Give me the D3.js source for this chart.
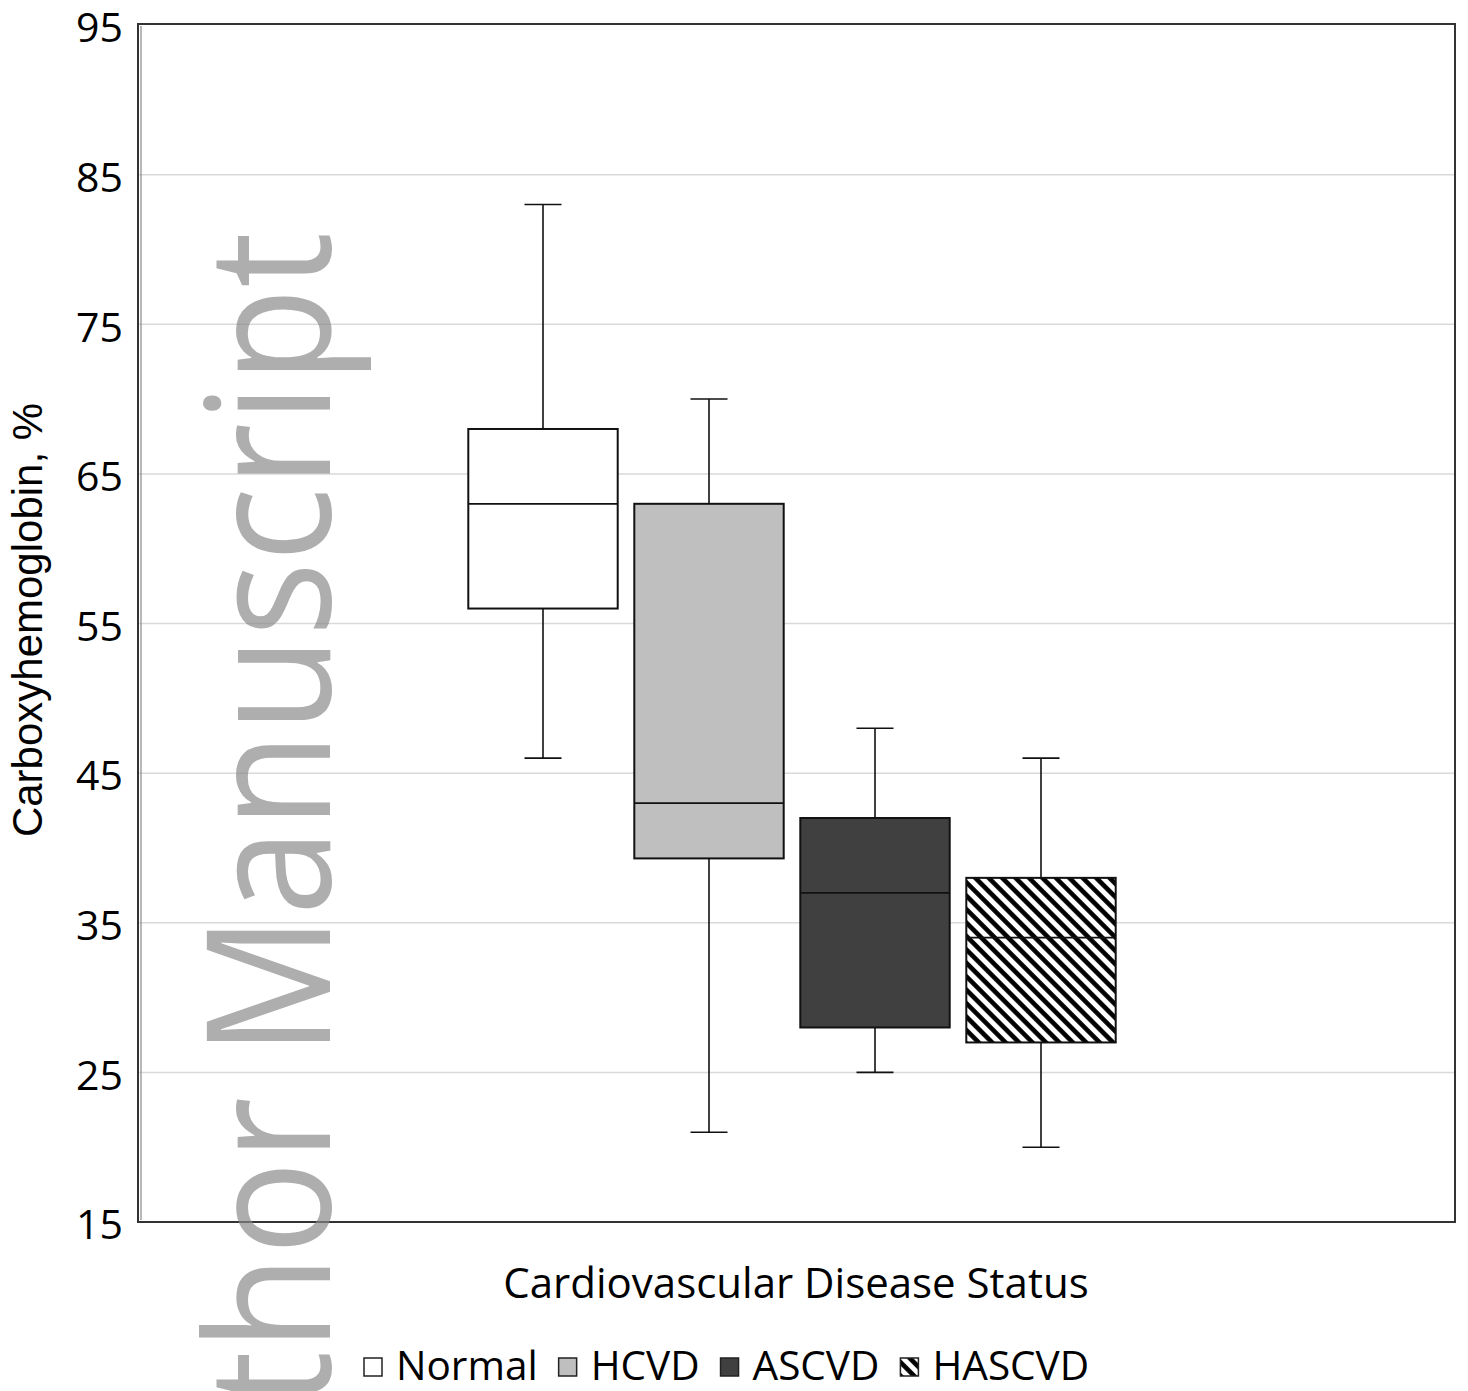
<!DOCTYPE html>
<html lang="en">
  <head>
    <meta charset="UTF-8" />
    <title>Carboxyhemoglobin by CVD status</title>
    <style>
      body { margin: 0; background: #fff; }
      text { font-family: "Open Sans", "Noto Sans", sans-serif; }
    </style>
  </head>
  <body>
    <svg id="chart" width="1468" height="1391"></svg>

    <script src="https://d3js.org/d3.v7.min.js"></script>
    <script>
      // data
      const groups = ["Normal", "HCVD", "ASCVD", "HASCVD"];
      const whiskerMin = [46, 21, 25, 20];
      const q1 = [56, 39.3, 28, 27];
      const median = [63, 43, 37, 34];
      const q3 = [68, 63, 42, 38];
      const whiskerMax = [83, 70, 48, 46];
      const yTicks = [15, 25, 35, 45, 55, 65, 75, 85, 95];

      const fills = ["#ffffff", "#bfbfbf", "#404040", "url(#hatch)"];

      const svg = d3.select("#chart");
      const plotLeft = 138, plotRight = 1455, plotTop = 25, plotBottom = 1222;

      const y = d3.scaleLinear().domain([15, 95]).range([plotBottom, plotTop]);
      const x = d3.scaleBand()
        .domain(groups)
        .range([460, 1124])
        .paddingInner(0.1)
        .paddingOuter(0.05);

      // hatch pattern
      const defs = svg.append("defs");
      const pat = defs.append("pattern")
        .attr("id", "hatch")
        .attr("patternUnits", "userSpaceOnUse")
        .attr("width", 9.5)
        .attr("height", 9.5)
        .attr("patternTransform", "rotate(-45)");
      pat.append("rect").attr("width", 9.5).attr("height", 9.5).attr("fill", "#fff");
      pat.append("line")
        .attr("x1", 2.4).attr("x2", 2.4)
        .attr("y1", 0).attr("y2", 9.5)
        .attr("stroke", "#000")
        .attr("stroke-width", 4.6);

      // gridlines
      svg.append("g")
        .selectAll("line")
        .data(yTicks.filter(d => d > 15 && d < 95))
        .enter()
        .append("line")
        .attr("x1", plotLeft)
        .attr("x2", plotRight)
        .attr("y1", d => y(d))
        .attr("y2", d => y(d))
        .attr("stroke", "#d9d9d9")
        .attr("stroke-width", 1.5);

      // y axis labels (no ticks, no domain)
      const yAxis = svg.append("g")
        .attr("transform", `translate(${plotLeft - 15},0)`)
        .call(d3.axisLeft(y).tickValues(yTicks).tickSize(0).tickPadding(0));
      yAxis.select(".domain").remove();
      yAxis.selectAll("text")
        .attr("dy", "0.41em")
        .style("font-size", "41px")
        .style("font-family", "'Open Sans', sans-serif")
        .attr("fill", "#000");

      // frame
      svg.append("rect")
        .attr("x", plotLeft)
        .attr("y", plotTop - 1)
        .attr("width", plotRight - plotLeft)
        .attr("height", plotBottom - plotTop + 1)
        .attr("fill", "none")
        .attr("stroke", "#333")
        .attr("stroke-width", 2);
      svg.append("line")
        .attr("x1", plotLeft + 3).attr("x2", plotLeft + 3)
        .attr("y1", plotTop + 1).attr("y2", plotBottom - 2)
        .attr("stroke", "#888")
        .attr("stroke-width", 1.2);

      // box plots
      const boxes = svg.append("g")
        .selectAll("g")
        .data(groups)
        .enter()
        .append("g");

      const cx = g => x(g) + x.bandwidth() / 2;
      const capW = 37;

      boxes.append("line")
        .attr("x1", cx).attr("x2", cx)
        .attr("y1", (d, i) => y(whiskerMax[i]))
        .attr("y2", (d, i) => y(whiskerMin[i]))
        .attr("stroke", "#111")
        .attr("stroke-width", 1.6);

      [whiskerMax, whiskerMin].forEach(arr => {
        boxes.append("line")
          .attr("x1", d => cx(d) - capW / 2)
          .attr("x2", d => cx(d) + capW / 2)
          .attr("y1", (d, i) => y(arr[i]))
          .attr("y2", (d, i) => y(arr[i]))
          .attr("stroke", "#111")
          .attr("stroke-width", 1.6);
      });

      boxes.append("rect")
        .attr("x", d => x(d))
        .attr("width", x.bandwidth())
        .attr("y", (d, i) => y(q3[i]))
        .attr("height", (d, i) => y(q1[i]) - y(q3[i]))
        .attr("fill", (d, i) => fills[i])
        .attr("stroke", "#111")
        .attr("stroke-width", 2);

      boxes.append("line")
        .attr("x1", d => x(d))
        .attr("x2", d => x(d) + x.bandwidth())
        .attr("y1", (d, i) => y(median[i]))
        .attr("y2", (d, i) => y(median[i]))
        .attr("stroke", "#111")
        .attr("stroke-width", 1.8);

      // axis titles
      svg.append("text")
        .attr("transform", "translate(42,620) rotate(-90)")
        .attr("text-anchor", "middle")
        .style("font-family", "'Liberation Sans', Arial, sans-serif")
        .style("font-size", "42px")
        .text("Carboxyhemoglobin, %");

      svg.append("text")
        .attr("x", 796)
        .attr("y", 1298)
        .attr("text-anchor", "middle")
        .style("font-size", "42px")
        .text("Cardiovascular Disease Status");

      // legend
      const legend = svg.append("g").attr("transform", "translate(364,1380)");
      let lx = 0;
      groups.forEach((g, i) => {
        legend.append("rect")
          .attr("x", lx)
          .attr("y", -22)
          .attr("width", 18)
          .attr("height", 18)
          .attr("fill", fills[i])
          .attr("stroke", "#222")
          .attr("stroke-width", 1.5);
        const t = legend.append("text")
          .attr("x", lx + 32)
          .attr("y", 0)
          .style("font-size", "40.5px")
          .text(g);
        lx += 32 + t.node().getComputedTextLength() + 21;
      });

      // watermark
      svg.append("text")
        .attr("transform", "translate(330,232) rotate(-90) scale(0.91,1)")
        .attr("text-anchor", "end")
        .style("font-size", "172px")
        .style("font-family", "'Open Sans', sans-serif")
        .attr("fill", "#888")
        .attr("opacity", 0.68)
        .text("Author Manuscript");
    </script>
  </body>
</html>
